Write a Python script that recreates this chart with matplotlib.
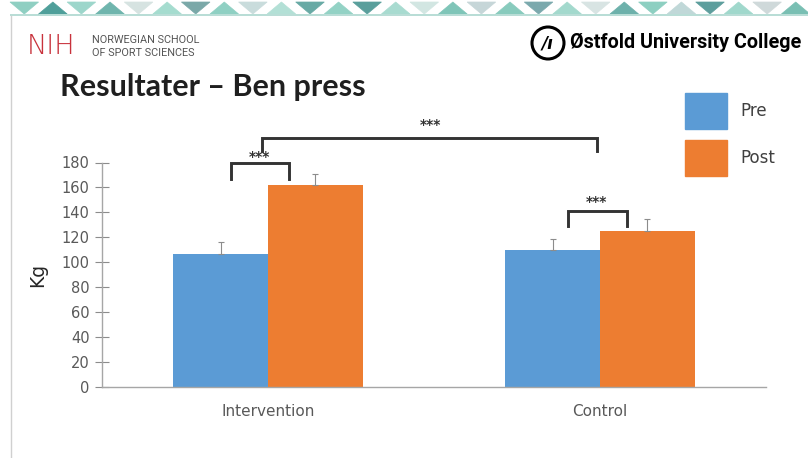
import matplotlib.pyplot as plt
import matplotlib.patches as mpatches
import numpy as np

# values
groups = ['Intervention', 'Control']
pre = [107, 110]
post = [162, 125]
pre_err = [9, 8.5]
post_err = [8.5, 10]
yticks = list(range(0, 181, 20))
sig_label = '***'

BLUE = '#5B9BD5'
ORANGE = '#ED7D31'
GRAY_TXT = '#595959'
DARK = '#333333'

# colours of the decorative triangle strip at the top of the slide
banner_colors = ['#8fcfc2', '#4f9f9a', '#9dd6cb', '#6fb5ad', '#d6e3e1', '#a5dccf',
                 '#7aa8a8', '#8fd0c3', '#c9dcdc', '#b3e0d6', '#68aaa5', '#93d2c5',
                 '#5a9f9c', '#a8dbd0', '#d2e6e2', '#7fc5b8', '#c6d6d8', '#88cbbd',
                 '#7ba9ad', '#a3d9cd', '#d8e4e3', '#6db1ab', '#8dcfc1', '#c0d8d8',
                 '#5d9e9d', '#a0d8cc', '#cfd9da', '#79bfb3']

fig = plt.figure(figsize=(8.08, 4.58), dpi=100)

# slide decoration: triangle strip and left border
tw = 800 / len(banner_colors)
for i, c in enumerate(banner_colors):
    x0 = 10 + i * tw
    if i % 2 == 0:
        pts = [(x0, 2), (x0 + tw, 2), (x0 + tw / 2, 14)]
    else:
        pts = [(x0, 14), (x0 + tw, 14), (x0 + tw / 2, 2)]
    pts_f = [(px / 808, 1 - py / 458) for px, py in pts]
    fig.patches.append(mpatches.Polygon(pts_f, closed=True, facecolor=c, edgecolor=c,
                                        lw=0.5, transform=fig.transFigure))
    fill = [(x0 / 808, 1 - 14 / 458), ((x0 + tw) / 808, 1 - 14 / 458),
            ((x0 + tw) / 808, 1 - 16 / 458), (x0 / 808, 1 - 16 / 458)]
    fig.patches.append(mpatches.Polygon(fill, closed=True, facecolor='#b9ddd6',
                                        edgecolor='none', transform=fig.transFigure))
fig.add_artist(plt.Line2D([11 / 808, 11 / 808], [0, 1 - 16 / 458], color='#d0d0d0', lw=1))

# logos / header texts
fig.text(27 / 808, 1 - 46 / 458, 'NIH', color='#c8323c', fontsize=19.5, family='DejaVu Sans',
         fontweight='light', va='center', ha='left')
fig.text(92 / 808, 1 - 40 / 458, 'NORWEGIAN SCHOOL', color='#555555', fontsize=7.8,
         family='Roboto', va='center', ha='left')
fig.text(92 / 808, 1 - 53 / 458, 'OF SPORT SCIENCES', color='#555555', fontsize=7.8,
         family='Roboto', va='center', ha='left')
fig.patches.append(mpatches.Ellipse((548 / 808, 1 - 43 / 458), 32 / 808, 32 / 458,
                                    facecolor='none', edgecolor='black', lw=2.2,
                                    transform=fig.transFigure))
fig.text(548 / 808, 1 - 43 / 458, '/ı', fontsize=12, fontweight='bold', style='italic',
         ha='center', va='center', color='black')
fig.text(570 / 808, 1 - 43 / 458, 'Østfold University College', fontsize=14.2,
         family='Roboto', fontweight='bold', va='center', ha='left', color='black')
fig.text(60 / 808, 1 - 87 / 458, 'Resultater – Ben press', fontsize=22, family='Lato',
         fontweight='bold', va='center', ha='left', color='#1f1f1f')

# chart
ax = fig.add_axes([102 / 808, 1 - 387 / 458, 664 / 808, 224.5 / 458])
x = np.arange(len(groups))
w = 0.285
ekw = dict(ecolor='#8c8c8c', elinewidth=0.8, capsize=2.5, capthick=0.8)
ax.bar(x - w / 2, pre, w, color=BLUE, yerr=[np.zeros(len(pre)), pre_err], error_kw=ekw)
ax.bar(x + w / 2, post, w, color=ORANGE, yerr=[np.zeros(len(post)), post_err], error_kw=ekw)

ax.set_xlim(-0.5, 1.5)
ax.set_ylim(0, 180)
ax.set_yticks(yticks)
ax.set_xticks(x)
ax.set_xticklabels(groups)
ax.tick_params(axis='y', direction='inout', length=10, width=0.8, color='#8c8c8c',
               labelcolor=GRAY_TXT, labelsize=10.5, pad=4)
ax.tick_params(axis='x', length=0, labelcolor=GRAY_TXT, labelsize=11, pad=12)
for s in ['top', 'right']:
    ax.spines[s].set_visible(False)
for s in ['left', 'bottom']:
    ax.spines[s].set_color('#a6a6a6')
    ax.spines[s].set_linewidth(1)
ax.set_ylabel('Kg', fontsize=13.5, color='#262626', labelpad=10)


def bracket(x1, x2, y_low, y_top, tx, ty):
    ax.plot([x1, x1, x2, x2], [y_low, y_top, y_top, y_low], color=DARK, lw=2.1,
            clip_on=False, solid_joinstyle='miter')
    ax.text(tx, ty, sig_label, ha='center', va='center', fontsize=10, color=DARK,
            fontweight='bold', clip_on=False)


bracket(-0.112, 0.063, 166.4, 179.2, -0.027, 184.8)
bracket(-0.018, 0.991, 189.6, 200.0, 0.49, 210.4)
bracket(0.905, 1.082, 128.8, 140.8, 0.988, 148.0)

# legend
handles = [mpatches.Patch(color=BLUE, label='Pre'), mpatches.Patch(color=ORANGE, label='Post')]
fig.legend(handles=handles, loc='upper left', bbox_to_anchor=(685 / 808, 1 - 93 / 458),
           bbox_transform=fig.transFigure, frameon=False, borderpad=0, borderaxespad=0,
           fontsize=12, handlelength=2.5, handleheight=2.95, labelspacing=0.64,
           handletextpad=0.8, labelcolor='#404040')

plt.savefig('out.png', dpi=100)
